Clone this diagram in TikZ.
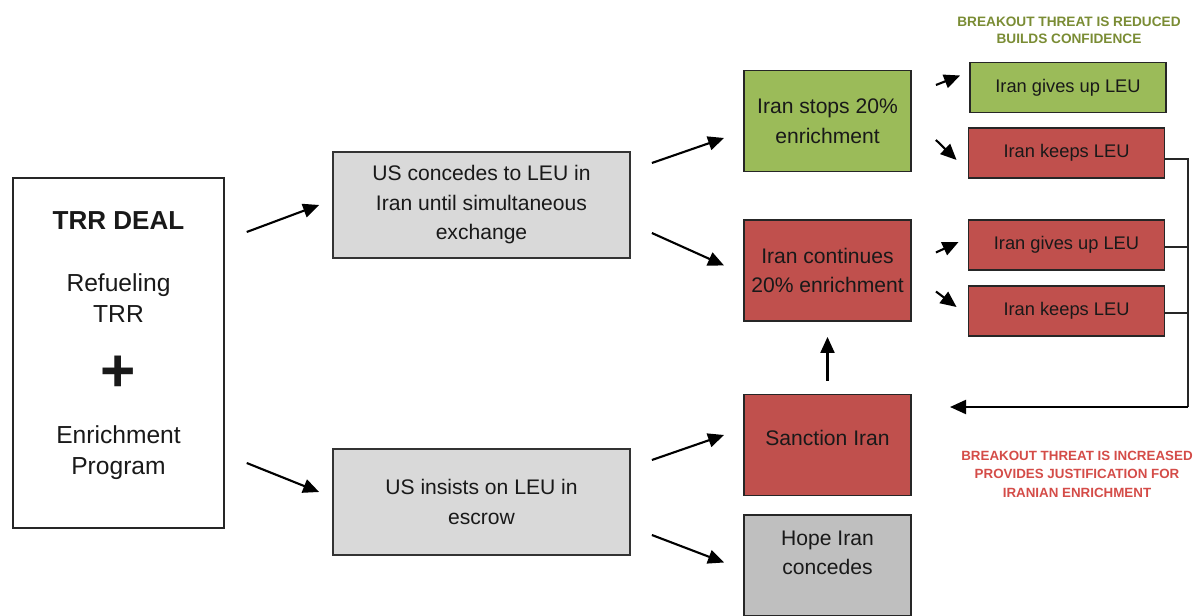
\documentclass[tikz,border=0pt]{standalone}
\usepackage{fontspec}
\setmainfont{Liberation Sans}
\usetikzlibrary{arrows.meta,positioning}
\definecolor{stepgreen}{RGB}{155,187,89}
\definecolor{stepred}{RGB}{192,80,77}
\definecolor{usgray}{RGB}{217,217,217}
\definecolor{hopegray}{RGB}{191,191,191}
\definecolor{notegreen}{RGB}{122,140,52}
\definecolor{notered}{RGB}{212,76,72}

\begin{document}
\begin{tikzpicture}[
    x=0.025cm, y=-0.025cm,
    every node/.style={font=\fontsize{15}{21}\selectfont, text=black!90},
    deal/.style={draw=black!85, line width=1pt, fill=white, align=center, minimum width=5.275cm, minimum height=8.75cm, font=\fontsize{17.5}{22}\selectfont},
    usbox/.style={draw=black!80, line width=1.2pt, fill=usgray, align=center, minimum width=7.425cm, minimum height=2.65cm},
    choice/.style={draw=black!85, line width=1.3pt, align=center, minimum width=4.175cm, minimum height=2.525cm},
    leubox/.style={draw=black!85, line width=1.3pt, align=center, minimum width=4.9cm, minimum height=1.25cm, font=\fontsize{13}{16}\selectfont},
    note/.style={align=center, font=\fontsize{9.7}{12}\selectfont\bfseries},
    flow/.style={-{Triangle[length=4mm, width=3.5mm]}, line width=1.5pt, draw=black},
    feedback/.style={line width=1.2pt, draw=black!85}
]
\useasboundingbox (0,0) rectangle (1197,616);

\node[deal, text depth=14.5pt] (deal) at (118.5,353) {{\bfseries\fontsize{18.5}{22}\selectfont TRR DEAL}\\[22pt]Refueling\\TRR\\[23pt]{\bfseries\fontsize{43}{43}\selectfont +}\\[15pt]Enrichment\\Program};
\node[usbox] (concede) at (481.5,205) {US concedes to LEU in\\Iran until simultaneous\\exchange};
\node[usbox] (insist) at (481.5,502) {US insists on LEU in\\escrow};

\node[choice, fill=stepgreen] (stops) at (827.5,121) {Iran stops 20\%\\enrichment};
\node[choice, fill=stepred] (continues) at (827.5,270.5) {Iran continues\\20\% enrichment};
\node[choice, fill=stepred, text depth=10pt] (sanction) at (827.5,445) {Sanction Iran};
\node[choice, fill=hopegray, text depth=18pt] (hope) at (827.5,565.5) {Hope Iran\\concedes};

\node[leubox, fill=stepgreen] (givesup1) at (1068,87.5) {Iran gives up LEU};
\node[leubox, fill=stepred] (keeps1) at (1066.5,153) {Iran keeps LEU};
\node[leubox, fill=stepred] (givesup2) at (1066.5,245) {Iran gives up LEU};
\node[leubox, fill=stepred] (keeps2) at (1066.5,311) {Iran keeps LEU};

\node[note, text=notegreen] (reduced) at (1069,30) {BREAKOUT THREAT IS REDUCED\\BUILDS CONFIDENCE};
\node[note, text=notered, font=\fontsize{9.5}{13.2}\selectfont\bfseries] (increased) at (1077,474) {BREAKOUT THREAT IS INCREASED\\PROVIDES JUSTIFICATION FOR\\IRANIAN ENRICHMENT};

\draw[flow] ([shift={(22,-121)}]deal.east) -- ([shift={(-13,0)}]concede.west);
\draw[flow] ([shift={(22,110)}]deal.east) -- ([shift={(-13,-10)}]insist.west);
\draw[flow] ([shift={(21,-42)}]concede.east) -- ([shift={(-19,17)}]stops.west);
\draw[flow] ([shift={(21,28)}]concede.east) -- ([shift={(-19,-5)}]continues.west);
\draw[flow] ([shift={(21,-42)}]insist.east) -- ([shift={(-19,-10)}]sanction.west);
\draw[flow] ([shift={(21,33)}]insist.east) -- ([shift={(-19,-3)}]hope.west);
\draw[flow] ([shift={(24,-36)}]stops.east) -- ([shift={(-9,-12)}]givesup1.west);
\draw[flow] ([shift={(24,19)}]stops.east) -- ([shift={(-11,7)}]keeps1.west);
\draw[flow] ([shift={(24,-18)}]continues.east) -- ([shift={(-9,-3)}]givesup2.west);
\draw[flow] ([shift={(24,21)}]continues.east) -- ([shift={(-11,-4)}]keeps2.west);
\draw[flow] ([shift={(0,-13)}]sanction.north) -- ([shift={(0,15)}]continues.south);

\coordinate (rail) at (1188,407);
\coordinate (back) at (950,407);
\draw[feedback] ([yshift=-0.15cm]keeps1.east) -| (rail);
\draw[feedback] ([yshift=-0.05cm]givesup2.east) -- ([yshift=-0.05cm]givesup2.east -| rail);
\draw[feedback] ([yshift=-0.05cm]keeps2.east) -- ([yshift=-0.05cm]keeps2.east -| rail);
\draw[flow] (rail) -- (back);
\end{tikzpicture}
\end{document}
